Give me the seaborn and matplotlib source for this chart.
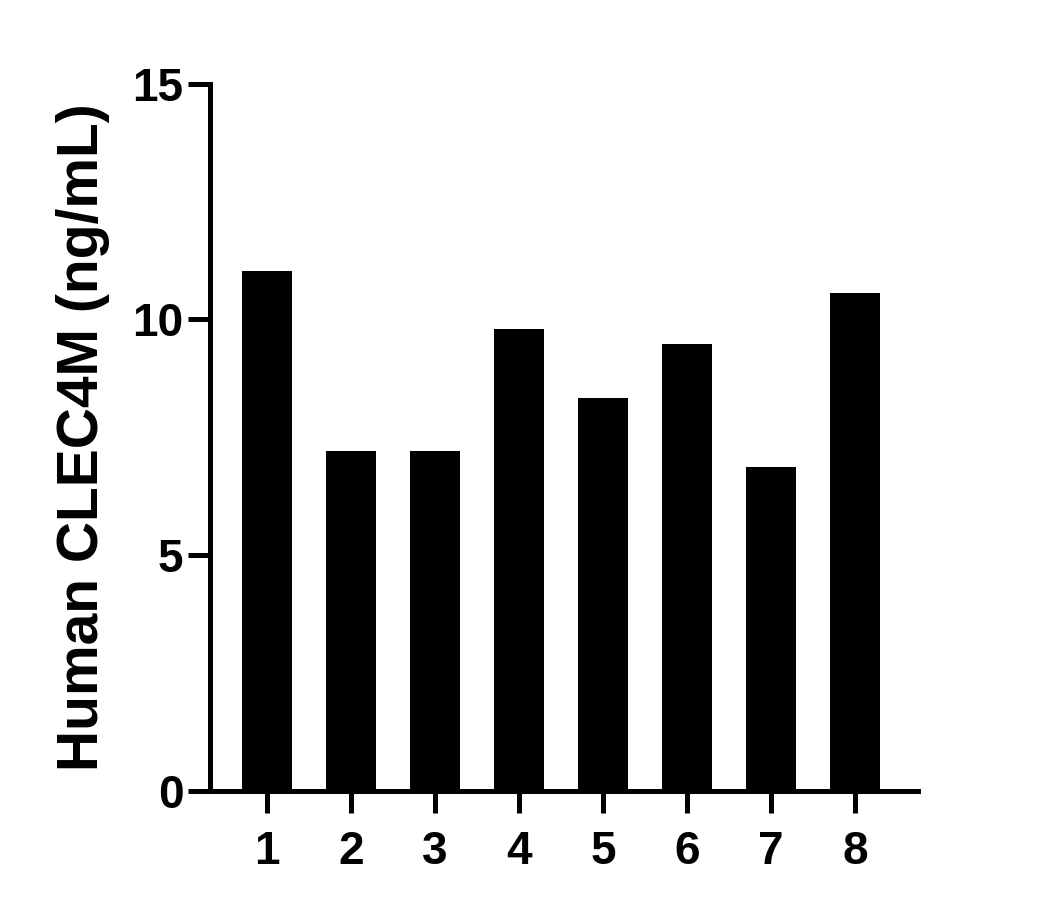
import matplotlib
matplotlib.use("Agg")
import matplotlib.pyplot as plt
import seaborn as sns
import pandas as pd

# Sample numbers and measured concentrations
samples = ["1", "2", "3", "4", "5", "6", "7", "8"]
values = [11.02, 7.20, 7.20, 9.79, 8.34, 9.47, 6.86, 10.55]
y_ticks = [0, 5, 10, 15]

df = pd.DataFrame({"sample": samples, "value": values})

sns.set_style("ticks")
plt.rcParams["font.family"] = ["Liberation Sans", "DejaVu Sans"]
plt.rcParams["text.color"] = "black"
plt.rcParams["axes.labelcolor"] = "black"
plt.rcParams["xtick.color"] = "black"
plt.rcParams["ytick.color"] = "black"

fig = plt.figure(figsize=(10.55, 9.08), dpi=100)
ax = fig.add_axes([0.199, 0.129, 0.671, 0.779])

sns.barplot(data=df, x="sample", y="value", color="black", width=0.6,
            saturation=1, ax=ax, edgecolor="black", linewidth=0)

ax.set_ylim(0, 15)
ax.set_xlim(-0.68, 7.75)
ax.set_yticks(y_ticks)
ax.set_xlabel("")
ax.set_ylabel("Human CLEC4M (ng/mL)", fontsize=41, fontweight="bold",
              color="black", labelpad=16)

for side in ["top", "right"]:
    ax.spines[side].set_visible(False)
for side in ["left", "bottom"]:
    ax.spines[side].set_linewidth(3.6)
    ax.spines[side].set_color("black")

ax.tick_params(axis="both", width=3.6, length=16, colors="black",
               labelsize=33)
ax.tick_params(axis="y", pad=3)
ax.tick_params(axis="x", pad=12)
for lbl in ax.get_xticklabels() + ax.get_yticklabels():
    lbl.set_fontweight("bold")

fig.savefig("out.png", dpi=100, facecolor="white")
